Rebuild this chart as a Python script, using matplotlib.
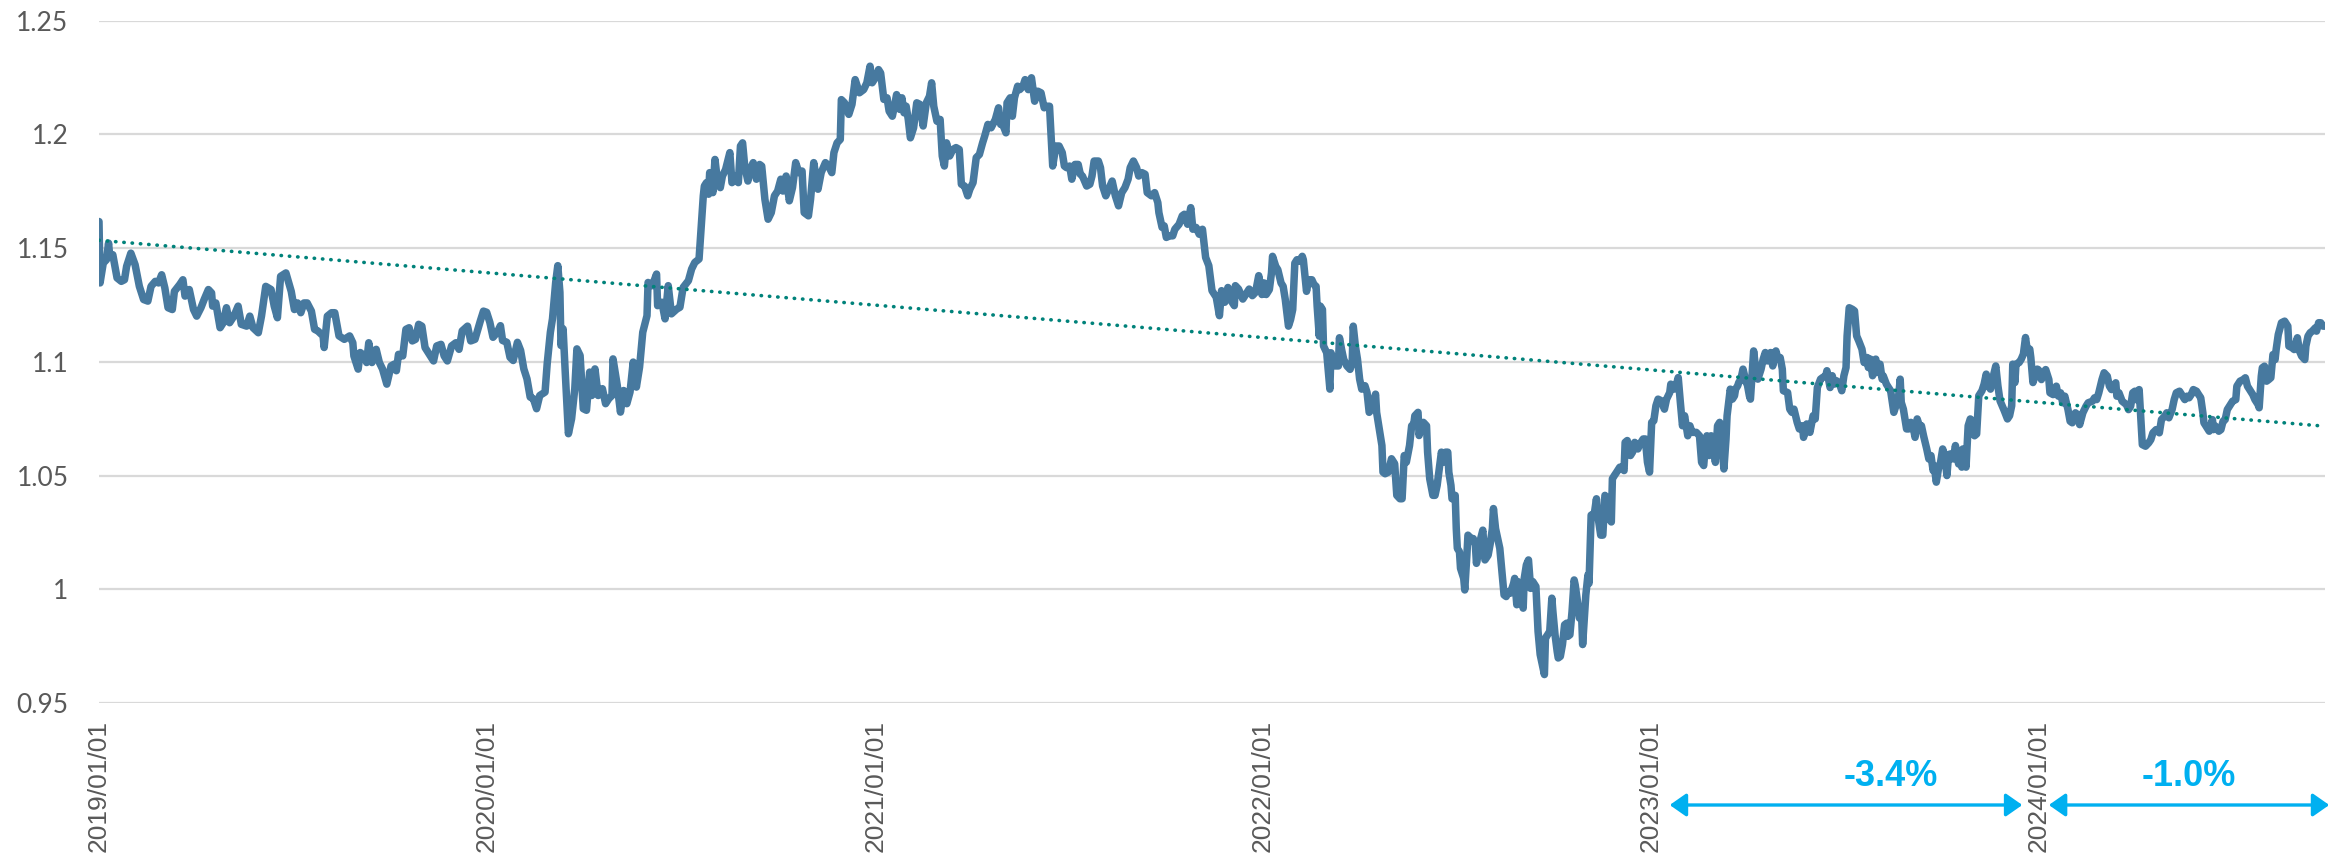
import numpy as np
import pandas as pd
import matplotlib
matplotlib.use("Agg")
import matplotlib.pyplot as plt
import matplotlib.dates as mdates
from matplotlib.patches import ArrowStyle
from matplotlib.ticker import FuncFormatter

# EUR/USD, daily closes sampled through each year (day offset from 1 January)
days_2019 = [0, 1, 4, 7, 9, 10, 13, 17, 21, 24, 26, 30, 34, 38, 42, 46, 49, 53, 56, 59,
             62, 65, 69, 71, 76, 79, 81, 85, 89, 92, 96, 99, 103, 106, 107, 110, 114, 117, 120, 123,
             127, 131, 134, 139, 142, 145, 150, 153, 157, 162, 165, 168, 171, 176, 181, 184, 187, 190, 193, 196,
             200, 203, 206, 211, 212, 215, 219, 222, 226, 231, 236, 239, 240, 244, 246, 250, 252, 254, 257, 261,
             264, 267, 271, 275, 278, 280, 282, 286, 289, 292, 295, 298, 301, 304, 307, 312, 315, 318, 322, 325,
             328, 332, 336, 339, 342, 347, 350, 354, 359, 362]
eur_2019 = [1.1617, 1.1347, 1.1434, 1.1449, 1.1522, 1.1471, 1.1471, 1.1369, 1.1354, 1.1361,
            1.1420, 1.1478, 1.1427, 1.1332, 1.1274, 1.1267, 1.1332, 1.1354, 1.1347, 1.1383,
            1.1325, 1.1238, 1.1230, 1.1310, 1.1340, 1.1361, 1.1289, 1.1318, 1.1230, 1.1201,
            1.1238, 1.1274, 1.1318, 1.1303, 1.1245, 1.1259, 1.1150, 1.1172, 1.1238, 1.1172,
            1.1201, 1.1245, 1.1165, 1.1157, 1.1201, 1.1150, 1.1128, 1.1201, 1.1332, 1.1318,
            1.1245, 1.1194, 1.1376, 1.1391, 1.1310, 1.1230, 1.1259, 1.1216, 1.1259, 1.1259,
            1.1223, 1.1143, 1.1136, 1.1114, 1.1063, 1.1201, 1.1216, 1.1216, 1.1114, 1.1099,
            1.1114, 1.1084, 1.1026, 1.0968, 1.1041, 1.1026, 1.0997, 1.1084, 1.0997, 1.1055,
            1.0997, 1.0968, 1.0902, 1.0982, 1.0990, 1.0961, 1.1033, 1.1026, 1.1143, 1.1150,
            1.1092, 1.1099, 1.1165, 1.1157, 1.1063, 1.1026, 1.1004, 1.1070, 1.1077, 1.1026,
            1.1004, 1.1070, 1.1084, 1.1055, 1.1136, 1.1157, 1.1092, 1.1099, 1.1179, 1.1223]

days_2020 = [0, 3, 6, 10, 13, 15, 19, 22, 25, 29, 32, 35, 38, 41, 44, 47, 50, 55, 57, 60,
             62, 65, 67, 69, 70, 72, 74, 77, 80, 83, 85, 88, 91, 94, 97, 99, 102, 105, 109, 112,
             115, 118, 119, 123, 126, 129, 132, 135, 138, 141, 144, 147, 151, 152, 156, 160, 161, 165, 168, 171,
             174, 179, 182, 185, 190, 193, 196, 200, 202, 204, 205, 207, 209, 210, 213, 215, 217, 220, 222, 225,
             229, 231, 234, 237, 239, 241, 243, 246, 248, 251, 254, 257, 259, 262, 265, 268, 271, 274, 277, 279,
             282, 285, 288, 291, 294, 297, 299, 303, 305, 308, 310, 312, 315, 319, 322, 325, 327, 330, 333, 334,
             337, 341, 344, 347, 351, 355, 358, 361, 363]
eur_2020 = [1.1218, 1.1174, 1.1108, 1.1130, 1.1159, 1.1094, 1.1086, 1.1020, 1.1006, 1.1086,
            1.1050, 1.0969, 1.0925, 1.0845, 1.0838, 1.0794, 1.0852, 1.0867, 1.0991, 1.1130,
            1.1189, 1.1349, 1.1423, 1.1306, 1.1072, 1.1145, 1.0955, 1.0684, 1.0750, 1.0882,
            1.1057, 1.1028, 1.0794, 1.0787, 1.0955, 1.0852, 1.0969, 1.0852, 1.0882, 1.0816,
            1.0838, 1.0852, 1.1013, 1.0896, 1.0779, 1.0874, 1.0816, 1.0867, 1.0999, 1.0889,
            1.0977, 1.1130, 1.1203, 1.1349, 1.1335, 1.1386, 1.1247, 1.1262, 1.1189, 1.1335,
            1.1211, 1.1232, 1.1240, 1.1327, 1.1357, 1.1408, 1.1437, 1.1452, 1.1591, 1.1730,
            1.1773, 1.1788, 1.1737, 1.1832, 1.1744, 1.1890, 1.1810, 1.1766, 1.1817, 1.1846,
            1.1920, 1.1788, 1.1817, 1.1788, 1.1949, 1.1963, 1.1861, 1.1795, 1.1846, 1.1876,
            1.1803, 1.1868, 1.1861, 1.1715, 1.1627, 1.1656, 1.1730, 1.1751, 1.1803, 1.1751,
            1.1817, 1.1708, 1.1766, 1.1876, 1.1832, 1.1839, 1.1656, 1.1642, 1.1715, 1.1876,
            1.1817, 1.1759, 1.1832, 1.1876, 1.1861, 1.1832, 1.1920, 1.1963, 1.1978, 1.2153,
            1.2139, 1.2088, 1.2132, 1.2241, 1.2183, 1.2197, 1.2227, 1.2300, 1.2227]

days_2021 = [1, 3, 5, 8, 11, 13, 16, 18, 20, 23, 25, 27, 29, 31, 33, 36, 39, 42, 45, 48,
             51, 53, 55, 58, 61, 63, 65, 67, 70, 73, 76, 79, 81, 84, 87, 89, 92, 95, 98, 101,
             103, 106, 109, 113, 116, 118, 120, 123, 124, 127, 129, 131, 134, 136, 139, 141, 144, 147, 150, 153,
             156, 159, 161, 164, 166, 167, 170, 173, 176, 178, 180, 183, 185, 188, 191, 193, 195, 199, 202, 204,
             206, 210, 212, 214, 217, 221, 223, 226, 229, 232, 235, 238, 240, 243, 246, 248, 251, 254, 256, 260,
             263, 266, 267, 270, 272, 274, 277, 280, 282, 286, 289, 291, 294, 297, 299, 302, 305, 308, 311, 314,
             317, 321, 324, 326, 329, 332, 335, 338, 339, 342, 346, 349, 352, 355, 358, 361, 364]
eur_2021 = [1.2256, 1.2285, 1.2270, 1.2154, 1.2161, 1.2102, 1.2080, 1.2124, 1.2175, 1.2110,
            1.2161, 1.2095, 1.2124, 1.2066, 1.1985, 1.2029, 1.2139, 1.2132, 1.2037, 1.2139,
            1.2168, 1.2227, 1.2124, 1.2058, 1.2066, 1.1905, 1.1861, 1.1963, 1.1905, 1.1934,
            1.1942, 1.1934, 1.1781, 1.1773, 1.1730, 1.1759, 1.1788, 1.1898, 1.1912, 1.1963,
            1.1993, 1.2044, 1.2029, 1.2066, 1.2117, 1.2044, 1.2044, 1.2007, 1.2139, 1.2161,
            1.2080, 1.2161, 1.2212, 1.2197, 1.2212, 1.2241, 1.2197, 1.2249, 1.2146, 1.2190,
            1.2183, 1.2117, 1.2124, 1.2124, 1.1949, 1.1861, 1.1949, 1.1949, 1.1920, 1.1861,
            1.1854, 1.1861, 1.1803, 1.1868, 1.1868, 1.1825, 1.1817, 1.1773, 1.1781, 1.1817,
            1.1883, 1.1883, 1.1854, 1.1773, 1.1730, 1.1773, 1.1795, 1.1730, 1.1686, 1.1744,
            1.1766, 1.1803, 1.1854, 1.1883, 1.1854, 1.1817, 1.1832, 1.1825, 1.1744, 1.1730,
            1.1744, 1.1700, 1.1656, 1.1591, 1.1598, 1.1547, 1.1554, 1.1554, 1.1583, 1.1605,
            1.1642, 1.1649, 1.1605, 1.1678, 1.1583, 1.1591, 1.1561, 1.1583, 1.1459, 1.1423,
            1.1313, 1.1284, 1.1203, 1.1313, 1.1262, 1.1327, 1.1269, 1.1247, 1.1335, 1.1320,
            1.1276, 1.1298, 1.1320, 1.1291, 1.1306, 1.1379, 1.1296]

days_2022 = [1, 3, 6, 8, 9, 12, 14, 17, 19, 21, 24, 26, 28, 30, 32, 34, 37, 38, 41, 43,
             46, 48, 50, 51, 53, 54, 56, 57, 60, 63, 64, 66, 68, 71, 72, 74, 76, 79, 82, 84,
             85, 87, 89, 91, 93, 96, 98, 100, 101, 104, 106, 107, 109, 112, 113, 115, 118, 121, 124, 126,
             129, 131, 133, 135, 138, 140, 142, 143, 146, 147, 149, 151, 154, 155, 157, 160, 162, 164, 166, 168,
             170, 172, 174, 175, 177, 178, 181, 182, 183, 185, 186, 189, 190, 192, 193, 196, 198, 200, 201, 203,
             205, 207, 209, 212, 214, 216, 217, 219, 221, 223, 225, 227, 229, 231, 233, 236, 237, 239, 240, 242,
             245, 246, 248, 250, 252, 254, 257, 259, 261, 263, 265, 266, 268, 270, 272, 273, 275, 277, 278, 280,
             282, 284, 286, 287, 289, 291, 293, 294, 297, 298, 300, 301, 303, 304, 306, 307, 309, 312, 314, 315,
             318, 320, 322, 324, 326, 328, 329, 331, 333, 336, 338, 340, 341, 343, 346, 348, 350, 353, 355, 358,
             360, 362, 364]
eur_2022 = [1.1347, 1.1296, 1.1318, 1.1391, 1.1464, 1.1420, 1.1405, 1.1347, 1.1332, 1.1274,
            1.1157, 1.1186, 1.1230, 1.1434, 1.1449, 1.1442, 1.1464, 1.1449, 1.1310, 1.1361,
            1.1361, 1.1340, 1.1332, 1.1245, 1.1113, 1.1245, 1.1230, 1.1070, 1.1040, 1.0880,
            1.1040, 1.1011, 1.0982, 1.0982, 1.1106, 1.1055, 1.1011, 1.0982, 1.0967, 1.0997,
            1.1157, 1.1070, 1.1011, 1.0924, 1.0880, 1.0895, 1.0865, 1.0778, 1.0785, 1.0822,
            1.0858, 1.0778, 1.0719, 1.0632, 1.0515, 1.0508, 1.0515, 1.0574, 1.0552, 1.0413,
            1.0398, 1.0398, 1.0588, 1.0559, 1.0632, 1.0719, 1.0727, 1.0763, 1.0778, 1.0676,
            1.0719, 1.0734, 1.0719, 1.0603, 1.0486, 1.0413, 1.0413, 1.0457, 1.0530, 1.0603,
            1.0559, 1.0603, 1.0603, 1.0515, 1.0457, 1.0398, 1.0413, 1.0267, 1.0180, 1.0165,
            1.0092, 1.0048, 0.9997, 1.0150, 1.0238, 1.0223, 1.0223, 1.0194, 1.0114, 1.0165,
            1.0223, 1.0260, 1.0129, 1.0150, 1.0201, 1.0267, 1.0355, 1.0267, 1.0223, 1.0180,
            1.0077, 0.9975, 0.9968, 0.9990, 0.9983, 1.0026, 1.0048, 0.9932, 1.0034, 0.9975,
            0.9917, 1.0048, 1.0107, 1.0129, 1.0004, 1.0034, 1.0012, 0.9815, 0.9713, 0.9669,
            0.9625, 0.9786, 0.9800, 0.9815, 0.9961, 0.9902, 0.9800, 0.9727, 0.9698, 0.9705,
            0.9757, 0.9844, 0.9851, 0.9793, 0.9800, 0.9902, 1.0041, 1.0019, 0.9917, 0.9873,
            0.9888, 0.9757, 0.9902, 0.9975, 1.0063, 1.0026, 1.0326, 1.0333, 1.0398, 1.0333,
            1.0238, 1.0238, 1.0413, 1.0398, 1.0311, 1.0296, 1.0486, 1.0501, 1.0515, 1.0537,
            1.0537, 1.0522, 1.0646, 1.0654, 1.0588, 1.0603, 1.0646, 1.0617, 1.0639, 1.0661,
            1.0661, 1.0559, 1.0515]

days_2023 = [1, 3, 5, 7, 10, 13, 15, 18, 19, 22, 24, 26, 28, 30, 32, 35, 37, 39, 43, 46,
             48, 50, 52, 53, 55, 57, 59, 61, 63, 65, 67, 69, 71, 72, 75, 77, 79, 80, 82, 83,
             85, 87, 90, 91, 93, 94, 97, 99, 101, 104, 106, 108, 110, 113, 115, 118, 120, 122, 124, 125,
             129, 131, 133, 135, 138, 140, 143, 144, 147, 149, 150, 153, 155, 157, 160, 162, 165, 166, 169, 171,
             173, 175, 178, 180, 182, 184, 185, 187, 190, 192, 194, 196, 199, 201, 204, 205, 207, 209, 212, 213,
             216, 218, 219, 222, 224, 226, 229, 231, 233, 235, 236, 238, 241, 243, 245, 247, 249, 251, 254, 255,
             257, 260, 262, 264, 266, 267, 269, 271, 273, 275, 277, 279, 280, 282, 285, 287, 290, 291, 293, 294,
             296, 297, 299, 301, 303, 305, 307, 309, 312, 314, 316, 318, 320, 322, 325, 327, 329, 331, 333, 336,
             338, 340, 341, 343, 344, 347, 349, 351, 353, 355, 357, 358, 360, 364]
eur_2023 = [1.0734, 1.0741, 1.0807, 1.0836, 1.0829, 1.0792, 1.0836, 1.0865, 1.0902, 1.0880,
            1.0895, 1.0931, 1.0822, 1.0719, 1.0763, 1.0675, 1.0719, 1.0690, 1.0690, 1.0675,
            1.0558, 1.0544, 1.0661, 1.0675, 1.0588, 1.0675, 1.0632, 1.0558, 1.0719, 1.0734,
            1.0661, 1.0529, 1.0661, 1.0763, 1.0880, 1.0836, 1.0851, 1.0880, 1.0895, 1.0909,
            1.0924, 1.0968, 1.0909, 1.0902, 1.0851, 1.0836, 1.1048, 1.0968, 1.0924, 1.0968,
            1.1012, 1.1041, 1.1004, 1.1041, 1.0982, 1.1048, 1.1012, 1.1019, 1.0968, 1.0873,
            1.0865, 1.0792, 1.0778, 1.0792, 1.0734, 1.0705, 1.0719, 1.0668, 1.0727, 1.0712,
            1.0690, 1.0763, 1.0749, 1.0887, 1.0924, 1.0931, 1.0939, 1.0961, 1.0887, 1.0939,
            1.0902, 1.0917, 1.0902, 1.0873, 1.0939, 1.0975, 1.1114, 1.1238, 1.1231, 1.1224,
            1.1114, 1.1092, 1.1056, 1.0997, 1.1019, 1.0975, 1.1012, 1.0939, 1.1012, 1.0953,
            1.0990, 1.0924, 1.0939, 1.0902, 1.0887, 1.0873, 1.0778, 1.0807, 1.0822, 1.0924,
            1.0822, 1.0792, 1.0705, 1.0705, 1.0734, 1.0719, 1.0668, 1.0749, 1.0705, 1.0719,
            1.0675, 1.0617, 1.0573, 1.0588, 1.0522, 1.0544, 1.0471, 1.0529, 1.0558, 1.0617,
            1.0588, 1.0500, 1.0558, 1.0595, 1.0573, 1.0632, 1.0551, 1.0588, 1.0537, 1.0617,
            1.0610, 1.0537, 1.0719, 1.0749, 1.0741, 1.0675, 1.0683, 1.0851, 1.0873, 1.0902,
            1.0946, 1.0895, 1.0880, 1.0924, 1.0982, 1.0895, 1.0829, 1.0807, 1.0785, 1.0749,
            1.0763, 1.0807, 1.0990, 1.0909, 1.0990, 1.0997, 1.1012, 1.1034, 1.1107, 1.1041,
            1.1056, 1.1019, 1.0909, 1.0968]

days_2024 = [0, 3, 5, 7, 10, 11, 14, 17, 19, 21, 23, 25, 28, 30, 32, 35, 37, 39, 42, 45,
             47, 51, 53, 55, 57, 60, 62, 65, 67, 69, 73, 74, 76, 79, 83, 85, 87, 89, 91, 92,
             95, 97, 98, 101, 104, 106, 108, 111, 114, 116, 119, 121, 123, 126, 128, 130, 133, 135, 138, 140,
             142, 144, 146, 149, 151, 153, 155, 156, 158, 161, 164, 165, 167, 170, 172, 174, 176, 178, 181, 183,
             186, 187, 190, 193, 195, 197, 199, 202, 204, 207, 208, 210, 211, 213, 215, 217, 219, 221, 223, 224,
             226, 229, 232, 235, 236, 239, 241, 243, 244, 246, 248, 251, 252, 254, 256, 258, 261, 262, 264, 266,
             268, 270]
eur_2024 = [1.0966, 1.0922, 1.0952, 1.0966, 1.0922, 1.0864, 1.0856, 1.0893, 1.0849, 1.0864,
            1.0820, 1.0849, 1.0790, 1.0739, 1.0732, 1.0776, 1.0768, 1.0724, 1.0776, 1.0805,
            1.0820, 1.0827, 1.0842, 1.0834, 1.0864, 1.0922, 1.0952, 1.0937, 1.0893, 1.0878,
            1.0908, 1.0849, 1.0864, 1.0827, 1.0812, 1.0790, 1.0805, 1.0864, 1.0871, 1.0834,
            1.0878, 1.0717, 1.0636, 1.0629, 1.0644, 1.0658, 1.0688, 1.0702, 1.0688, 1.0746,
            1.0761, 1.0776, 1.0754, 1.0790, 1.0834, 1.0864, 1.0871, 1.0856, 1.0834, 1.0849,
            1.0842, 1.0856, 1.0878, 1.0871, 1.0856, 1.0842, 1.0776, 1.0732, 1.0717, 1.0695,
            1.0746, 1.0702, 1.0717, 1.0695, 1.0702, 1.0739, 1.0746, 1.0790, 1.0812, 1.0827,
            1.0834, 1.0893, 1.0915, 1.0922, 1.0930, 1.0893, 1.0878, 1.0856, 1.0834, 1.0812,
            1.0798, 1.0937, 1.0974, 1.0981, 1.0915, 1.0922, 1.0930, 1.1032, 1.1010, 1.1054,
            1.1120, 1.1172, 1.1179, 1.1157, 1.1069, 1.1062, 1.1054, 1.1091, 1.1106, 1.1047,
            1.1025, 1.1010, 1.1069, 1.1113, 1.1128, 1.1135, 1.1150, 1.1135, 1.1172, 1.1172,
            1.1157, 1.1157]

y_ticks = [0.95, 1.00, 1.05, 1.10, 1.15, 1.20, 1.25]
year_ticks = ["2019-01-01", "2020-01-01", "2021-01-01", "2022-01-01", "2023-01-01", "2024-01-01"]

# Yearly change bands shown under the axis
band_labels = ["-3.4%", "-1.0%"]
band_starts = ["2023-01-19", "2024-01-11"]
band_ends = ["2023-12-17", "2024-10-01"]
band_label_at = ["2023-08-15", "2024-05-22"]

# ---- assemble the series ----
years = {2019: (days_2019, eur_2019), 2020: (days_2020, eur_2020),
         2021: (days_2021, eur_2021), 2022: (days_2022, eur_2022),
         2023: (days_2023, eur_2023), 2024: (days_2024, eur_2024)}
dates, values = [], []
for yr, (dd, vv) in years.items():
    base = pd.Timestamp(f"{yr}-01-01")
    for d, v in zip(dd, vv, strict=True):
        dates.append(base + pd.Timedelta(days=d))
        values.append(v)
xn = mdates.date2num(pd.DatetimeIndex(dates).to_pydatetime())
yv = np.array(values)

# Linear trend fitted on a daily grid
dn = np.arange(xn[0], xn[-1] + 1)
daily_vals = np.interp(dn, xn, yv)
slope, intercept = np.polyfit(dn, daily_vals, 1)
trend_x = np.array([xn[0], xn[-1]])
trend_y = slope * trend_x + intercept


def dnum(s):
    return mdates.date2num(pd.Timestamp(s).to_pydatetime())


# ---- figure ----
W, H = 2346, 859
fig = plt.figure(figsize=(W / 100, H / 100), dpi=100)
ax = fig.add_axes([99 / W, (H - 703) / H, (2325 - 99) / W, (703 - 20.7) / H])

ax.plot(xn, yv, color="#47799F", lw=5.4,
        solid_joinstyle="round", solid_capstyle="round", zorder=3)
ax.plot(trend_x, trend_y, color="#00827A", lw=2.6,
        linestyle=(0, (0.1, 2.2)), dash_capstyle="round", zorder=4)

ax.set_ylim(y_ticks[0], y_ticks[-1])
ax.set_xlim(xn[0], xn[-1])
ax.set_yticks(y_ticks)
ax.yaxis.set_major_formatter(FuncFormatter(lambda v, p: f"{v:g}"))
ax.set_xticks([dnum(t) for t in year_ticks])
ax.set_xticklabels([pd.Timestamp(t).strftime("%Y/%m/%d") for t in year_ticks])

ax.grid(axis="y", color="#D9D9D9", lw=1.6, zorder=0)
ax.set_axisbelow(True)
for s in ax.spines.values():
    s.set_visible(False)
ax.tick_params(axis="both", length=0)
ax.tick_params(axis="y", pad=22, labelsize=19, labelcolor="#595959")
ax.tick_params(axis="x", pad=12, labelsize=19, labelcolor="#595959")
for lab in ax.get_yticklabels():
    lab.set_fontfamily(["Lato", "DejaVu Sans"])
for lab in ax.get_xticklabels():
    lab.set_fontfamily(["Liberation Sans", "DejaVu Sans"])
    lab.set_rotation(90)

# Change bands with double-headed arrows under the axis
trans = ax.get_xaxis_transform()
arrow_style = ArrowStyle("<|-|>", head_length=1.0, head_width=0.7)
for lbl, s, e, c in zip(band_labels, band_starts, band_ends, band_label_at):
    ax.annotate("", xy=(dnum(e), -0.1495), xytext=(dnum(s), -0.1495),
                xycoords=trans, textcoords=trans, annotation_clip=False,
                arrowprops=dict(arrowstyle=arrow_style, mutation_scale=10, lw=2.4,
                                color="#00B0F0", shrinkA=0, shrinkB=0))
    ax.text(dnum(c), -0.107, lbl, transform=trans, ha="center", va="center",
            fontsize=26, fontweight="bold", color="#00B0F0",
            family=["Liberation Sans Narrow", "Liberation Sans", "DejaVu Sans"], clip_on=False)

fig.savefig("out.png", dpi=100, facecolor="white")
